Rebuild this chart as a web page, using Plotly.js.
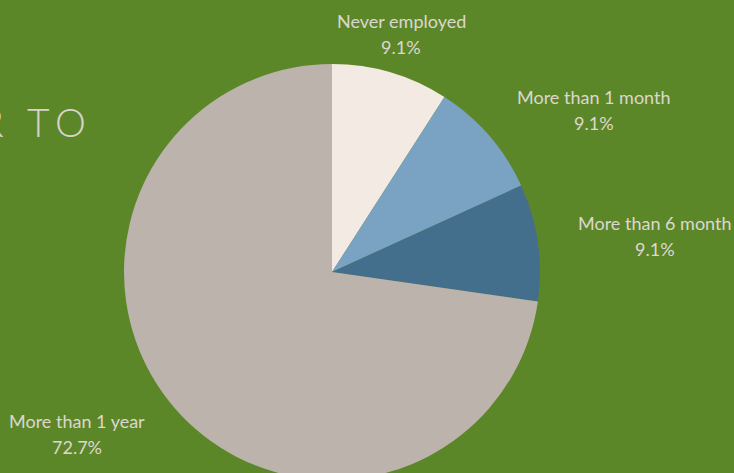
<!DOCTYPE html>
<html><head><meta charset="utf-8">
<script src="https://cdn.plot.ly/plotly-3.0.1.min.js"></script>
<style>html,body{margin:0;padding:0;overflow:hidden;background:#5c8729;width:734px;height:473px}</style>
</head><body>
<div id="chart" style="width:734px;height:490px"></div>
<script>
const categories = ["Never employed", "More than 1 month", "More than 6 month", "More than 1 year"];
const counts = [1, 1, 1, 8];
const sliceColors = ["#f3ebe3", "#7aa3c3", "#436f8c", "#bcb3ad"];
const titleFragment = "R TO";

// label anchor positions in pixels (layout only)
const labelPos = [[401, 21], [594, 97], [655, 223], [77, 421]];
const W = 734, H = 490;
const total = counts.reduce((a, b) => a + b, 0);
const textColor = "#ddd7cf";
const fontFam = "Lato, 'Open Sans', sans-serif";

const annotations = [];
categories.forEach((c, i) => {
  const [px, py] = labelPos[i];
  const pct = (counts[i] / total * 100).toFixed(1) + "%";
  annotations.push({xref: "paper", yref: "paper", x: px / W, y: (H - py) / H, text: c, showarrow: false,
    xanchor: "center", yanchor: "middle", font: {family: fontFam, size: 18, color: textColor}});
  annotations.push({xref: "paper", yref: "paper", x: px / W, y: (H - py - 26) / H, text: pct, showarrow: false,
    xanchor: "center", yanchor: "middle", font: {family: fontFam, size: 18, color: textColor}});
});
annotations.push({xref: "paper", yref: "paper", x: 81 / W, y: (H - 122) / H, text: titleFragment, showarrow: false,
  xanchor: "right", yanchor: "middle", font: {family: fontFam, size: 39, color: "#d8d2c9", weight: 300}});

const trace = {
  type: "pie", labels: categories, values: counts, sort: false, direction: "clockwise", rotation: 0,
  marker: {colors: sliceColors, line: {width: 0}}, textinfo: "none", hoverinfo: "label+percent",
  showlegend: false,
  domain: {x: [124 / W, 540 / W], y: [(H - 480) / H, (H - 64) / H]}
};
const layout = {width: W, height: H, margin: {l: 0, r: 0, t: 0, b: 0}, paper_bgcolor: "#5c8729",
  plot_bgcolor: "#5c8729", annotations: annotations, showlegend: false};
Plotly.newPlot("chart", [trace], layout, {displayModeBar: false, staticPlot: true}).then(() => {
  const anns = document.querySelectorAll(".annotation-text");
  const t = anns[anns.length - 1];
  if (t) t.style.letterSpacing = "7px";
});
</script>
</body></html>
